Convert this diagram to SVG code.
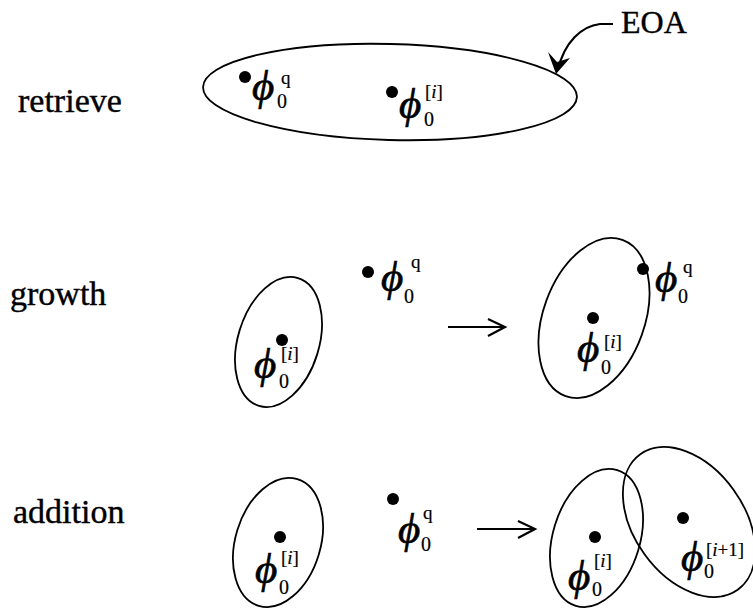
<svg xmlns="http://www.w3.org/2000/svg" width="753" height="609" viewBox="0 0 753 609">
<style>
.lbl{font-family:"Liberation Serif","DejaVu Serif",serif;font-size:34px;fill:#000;stroke:#000;stroke-width:0.4}
.eoa{font-family:"Liberation Serif","DejaVu Serif",serif;font-size:32px;fill:#000;stroke:#000;stroke-width:0.4}
.phi{font-family:"Liberation Serif","DejaVu Serif",serif;font-style:italic;font-size:43px;fill:#000;stroke:#000;stroke-width:0.7}
.sup{font-family:"Liberation Serif","DejaVu Serif",serif;font-size:19px;fill:#000;stroke:#000;stroke-width:0.2}
.sub{font-family:"Liberation Serif","DejaVu Serif",serif;font-size:20px;fill:#000;stroke:#000;stroke-width:0.2}
.it{font-style:italic}
.ell{fill:none;stroke:#000;stroke-width:1.8}
.dot{fill:#000}
.con{fill:none;stroke:#000;stroke-width:2.2}
</style>
<rect width="753" height="609" fill="#fff"/>
<g id="labels">
<text class="lbl" x="18" y="112">retrieve</text>
<text class="lbl" x="10" y="305">growth</text>
<text class="lbl" x="13" y="523">addition</text>
</g>
<g id="retrieve">
<ellipse class="ell" cx="390" cy="92" rx="187" ry="48" transform="rotate(1.5 390 92)"/>
<circle class="dot" cx="245" cy="77" r="6"/>
<text class="phi" x="252" y="100">ϕ</text><text class="sup" x="281" y="84">q</text><text class="sub" x="277" y="108">0</text>
<circle class="dot" cx="392" cy="92" r="6"/>
<text class="phi" x="399" y="118">ϕ</text><text class="sup" x="425" y="98">[<tspan class="it">i</tspan>]</text><text class="sub" x="424" y="126">0</text>
</g>
<g id="eoa">
<text class="eoa" x="621" y="33">EOA</text>
</g>
<g id="growth-before">
<ellipse class="ell" cx="278.5" cy="342" rx="40.6" ry="66.8" transform="rotate(17 278.5 342)"/>
<circle class="dot" cx="282" cy="340" r="6"/>
<text class="phi" x="254" y="378">ϕ</text><text class="sup" x="281" y="360">[<tspan class="it">i</tspan>]</text><text class="sub" x="279" y="388">0</text>
<circle class="dot" cx="368" cy="272" r="6"/>
<text class="phi" x="381" y="291">ϕ</text><text class="sup" x="411" y="268">q</text><text class="sub" x="404" y="303">0</text>
</g>
<g id="growth-after">
<ellipse class="ell" cx="594" cy="318" rx="50.7" ry="83.1" transform="rotate(20 594 318)"/>
<circle class="dot" cx="643" cy="269" r="6"/>
<text class="phi" x="655" y="292">ϕ</text><text class="sup" x="683" y="273">q</text><text class="sub" x="678" y="303">0</text>
<circle class="dot" cx="593" cy="318" r="6"/>
<text class="phi" x="577" y="362">ϕ</text><text class="sup" x="604" y="348">[<tspan class="it">i</tspan>]</text><text class="sub" x="601" y="374">0</text>
</g>
<g id="addition-before">
<ellipse class="ell" cx="278" cy="542.5" rx="42.5" ry="66.2" transform="rotate(17 278 542.5)"/>
<circle class="dot" cx="280" cy="537" r="6"/>
<text class="phi" x="255" y="583">ϕ</text><text class="sup" x="281" y="564">[<tspan class="it">i</tspan>]</text><text class="sub" x="279" y="594">0</text>
<circle class="dot" cx="393" cy="499" r="6"/>
<text class="phi" x="398" y="543">ϕ</text><text class="sup" x="423" y="519">q</text><text class="sub" x="421" y="551">0</text>
</g>
<g id="addition-after">
<ellipse class="ell" cx="596.5" cy="538" rx="43.5" ry="70.9" transform="rotate(17 596.5 538)"/>
<ellipse class="ell" cx="689" cy="522" rx="55" ry="83.5" transform="rotate(-35.7 689 522)"/>
<circle class="dot" cx="595" cy="537" r="6"/>
<text class="phi" x="568" y="590">ϕ</text><text class="sup" x="594" y="567">[<tspan class="it">i</tspan>]</text><text class="sub" x="592" y="596">0</text>
<circle class="dot" cx="683" cy="518" r="6"/>
<text class="phi" x="681" y="571">ϕ</text><text class="sup" x="706" y="556">[<tspan class="it">i</tspan>+1]</text><text class="sub" x="704" y="578">0</text>
</g>
<g id="connectors">
<path class="con" d="M613 24 L600 24 C582 26 564 42 558 70"/>
<path d="M556 74 L548 52 L557 62 L570 58 Z" fill="#000"/>
<path class="con" d="M448 327 L504 327 M488 319 L505 327 L488 336"/>
<path class="con" d="M477 529 L534 529 M518 521 L535 529 L518 538"/>
</g>
</svg>
